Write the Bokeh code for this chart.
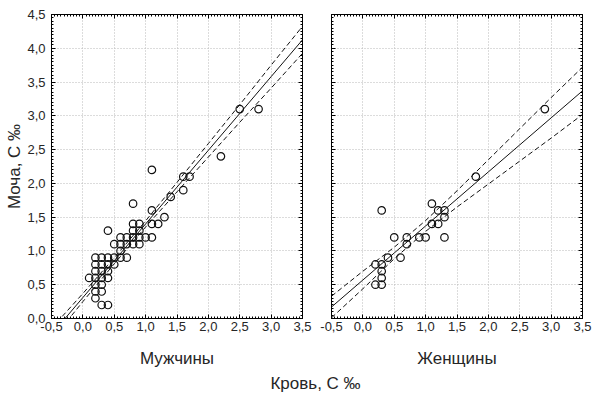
from bokeh.plotting import figure
from bokeh.layouts import row, column
from bokeh.models import (Range1d, LinearAxis, SingleIntervalTicker, CustomJSTickFormatter,
                          CustomLabelingPolicy)
from bokeh.core.properties import value
from bokeh.embed import file_html
from bokeh.resources import INLINE

# ---- data ----
men_blood = [0.2, 0.3, 0.4, 0.2, 0.3, 0.2, 0.3, 0.1, 0.2, 0.3, 0.4, 0.2, 0.3, 0.4,
             0.2, 0.3, 0.4, 0.5, 0.2, 0.3, 0.4, 0.5, 0.6, 0.7, 0.6,
             0.5, 0.6, 0.7, 0.8, 0.9, 0.6, 0.7, 0.8, 0.9, 1.0, 1.1,
             0.8, 0.9, 0.4, 0.8, 0.9, 1.1, 1.2, 1.3, 1.1, 0.8, 1.4, 1.6,
             1.6, 1.7, 1.1, 2.2, 2.5, 2.8]
men_urine = [0.3, 0.2, 0.2, 0.4, 0.4, 0.5, 0.5, 0.6, 0.6, 0.6, 0.6, 0.7, 0.7, 0.7,
             0.8, 0.8, 0.8, 0.8, 0.9, 0.9, 0.9, 0.9, 0.9, 0.9, 1.0,
             1.1, 1.1, 1.1, 1.1, 1.1, 1.2, 1.2, 1.2, 1.2, 1.2, 1.2,
             1.3, 1.3, 1.3, 1.4, 1.4, 1.4, 1.4, 1.5, 1.6, 1.7, 1.8, 1.9,
             2.1, 2.1, 2.2, 2.4, 3.1, 3.1]

women_blood = [1.8, 1.1, 0.3, 1.2, 1.3, 1.3, 1.1, 1.2, 0.5, 0.7, 0.9, 1.0, 1.3,
               0.7, 0.4, 0.6, 0.2, 0.3, 0.3, 0.3, 0.2, 0.3, 2.9]
women_urine = [2.1, 1.7, 1.6, 1.6, 1.6, 1.5, 1.4, 1.4, 1.2, 1.2, 1.2, 1.2, 1.2,
               1.1, 0.9, 0.9, 0.8, 0.8, 0.7, 0.6, 0.5, 0.5, 3.1]

# regression lines and 95% bands
fit_x = [-0.5, 0.0, 0.5, 1.0, 1.5, 2.0, 2.5, 3.0, 3.5]
men_fit = [-0.235, 0.31, 0.855, 1.40, 1.945, 2.49, 3.035, 3.58, 4.125]
men_upper = [-0.145, 0.37, 0.90, 1.445, 2.015, 2.59, 3.165, 3.75, 4.325]
men_lower = [-0.325, 0.25, 0.81, 1.355, 1.875, 2.39, 2.905, 3.41, 3.925]
women_fit = [0.17, 0.57, 0.97, 1.37, 1.77, 2.17, 2.57, 2.97, 3.37]
women_upper = [0.33, 0.70, 1.055, 1.45, 1.89, 2.35, 2.81, 3.27, 3.72]
women_lower = [0.01, 0.44, 0.885, 1.29, 1.65, 1.99, 2.33, 2.67, 3.02]

x_lo, x_hi = -0.5, 3.5
y_lo, y_hi = 0.0, 4.5
panel_titles = ["Мужчины", "Женщины"]
y_title = "Моча, С ‰"
x_title = "Кровь, С ‰"

FONT = "Liberation Sans"
TXT = "#262626"
TITLE_SIZE = "17px"

fmt = CustomJSTickFormatter(code="return tick.toFixed(1).replace('.', ',');")
no_labels = CustomLabelingPolicy(code="""
for (const i of indices) { indices.unset(i) }
return indices
""")


def style_axis(ax, show_labels):
    ax.axis_line_color = "black"
    ax.axis_line_width = 1
    ax.major_tick_in = 4
    ax.major_tick_out = 0
    ax.minor_tick_in = 2
    ax.minor_tick_out = 0
    ax.major_tick_line_color = "black"
    ax.minor_tick_line_color = "black"
    ax.major_label_text_font = FONT
    ax.major_label_text_color = TXT
    ax.axis_label_text_font = FONT
    ax.axis_label_text_font_style = "normal"
    ax.axis_label_text_color = TXT
    ax.axis_label_text_font_size = TITLE_SIZE
    if show_labels:
        ax.major_label_text_font_size = "13px"
        ax.formatter = fmt
    else:
        ax.major_label_text_font_size = "0px"
        ax.major_label_standoff = 0
        ax.major_label_policy = no_labels


def make_panel(bx, uy, fit, up, lo, title, show_y, w, border_left, border_right):
    p = figure(width=w, height=370, x_range=Range1d(x_lo, x_hi), y_range=Range1d(y_lo, y_hi),
               output_backend="svg", toolbar_location=None,
               min_border_left=border_left, min_border_right=border_right,
               min_border_top=14, min_border_bottom=52,
               x_axis_label=title, y_axis_label=(y_title if show_y else None))
    p.outline_line_color = None
    p.background_fill_color = "white"
    p.border_fill_color = "white"
    xt = SingleIntervalTicker(interval=0.5, num_minor_ticks=10)
    yt = SingleIntervalTicker(interval=0.5, num_minor_ticks=10)
    p.xaxis.ticker = xt
    p.yaxis.ticker = yt
    for ax in p.xaxis:
        style_axis(ax, True)
        ax.major_label_standoff = 3
        ax.axis_label_standoff = 15
    for ax in p.yaxis:
        style_axis(ax, show_y)
        if show_y:
            ax.major_label_standoff = 6
            ax.axis_label_standoff = 0
    top = LinearAxis(ticker=SingleIntervalTicker(interval=0.5, num_minor_ticks=10))
    style_axis(top, False)
    p.add_layout(top, "above")
    right = LinearAxis(ticker=SingleIntervalTicker(interval=0.5, num_minor_ticks=10))
    style_axis(right, False)
    p.add_layout(right, "right")
    p.xgrid.ticker = xt
    p.ygrid.ticker = yt
    p.grid.grid_line_color = "#b8b8b8"
    p.grid.grid_line_dash = "1 2"
    p.grid.grid_line_width = 1

    p.line(fit_x, up, line_color="#111111", line_width=1, line_dash="5 3")
    p.line(fit_x, lo, line_color="#111111", line_width=1, line_dash="5 3")
    p.line(fit_x, fit, line_color="#111111", line_width=1)
    p.scatter(bx, uy, marker="circle", size=7.5, fill_color=None,
              line_color="#111111", line_width=1.2)
    return p


p_men = make_panel(men_blood, men_urine, men_fit, men_upper, men_lower,
                   panel_titles[0], True, 316, 51, 14)
p_women = make_panel(women_blood, women_urine, women_fit, women_upper, women_lower,
                     panel_titles[1], False, 284, 15, 18)

p_txt = figure(width=600, height=22, x_range=Range1d(0, 600), y_range=Range1d(0, 22),
               output_backend="svg", toolbar_location=None, min_border=0,
               x_axis_type=None, y_axis_type=None)
p_txt.outline_line_color = None
p_txt.grid.visible = False
p_txt.text(x=[315], y=[9], text=[x_title], text_font=value(FONT), text_font_size=TITLE_SIZE,
           text_color=TXT, text_align="center", text_baseline="middle")

layout = column(row(p_men, p_women), p_txt)

open("out.html", "w").write(file_html(layout, INLINE))
